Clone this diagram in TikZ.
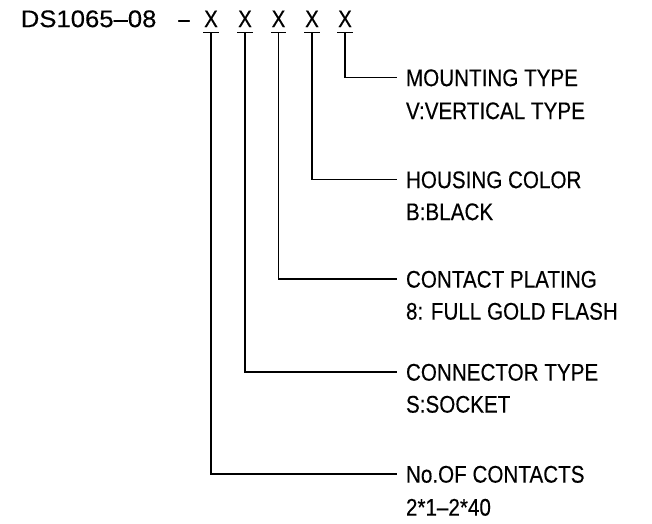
\documentclass[tikz,border=0pt]{standalone}
\usepackage{fontspec}
\setmainfont[FakeStretch=0.86,FakeBold=0.3]{Liberation Sans}
\newfontfamily\titlefont[FakeStretch=1.07,FakeBold=0.3]{Liberation Sans}
\usetikzlibrary{positioning}

\begin{document}
\begin{tikzpicture}[
    x = 1pt, y = -1pt, % pixel grid, y going down
    line width = 1.6pt,
    every node/.style = {font=\fontsize{24}{28}\selectfont, inner sep=0pt,
        text height=17.2pt, text depth=0pt},
    code/.style = {inner ysep=4.5pt}, % room for the underline
    lbl/.style = {anchor=west, outer xsep=9pt} % gap between leader and text
    ]
    \useasboundingbox (0,0) rectangle (652,523);

    % part number
    \node[anchor=west,font=\fontsize{24}{28}\titlefont] (pn) at (20,18.5) {DS1065–08};
    \node (dash) at (184,18.5) {–};
    \node[code] (c1) at (211,18.5) {X};
    \node[code] (c2) at (245,18.5) {X};
    \node[code] (c3) at (278.5,18.5) {X};
    \node[code] (c4) at (312,18.5) {X};
    \node[code] (c5) at (345,18.5) {X};

    % labels
    \node[lbl] (mt) at (397,77.5) {MOUNTING TYPE};
    \node (mtd) [below=33pt of mt.west, lbl] {V:VERTICAL TYPE};
    \node[lbl] (hc) at (397,179.5) {HOUSING COLOR};
    \node (hcd) [below=32pt of hc.west, lbl] {B:BLACK};
    \node[lbl] (cp) at (397,279) {CONTACT PLATING};
    \node (cpd) [below=32pt of cp.west, lbl] {8: FULL GOLD FLASH};
    \node[lbl] (ct) at (397,372) {CONNECTOR TYPE};
    \node (ctd) [below=32pt of ct.west, lbl] {S:SOCKET};
    \node[lbl] (nc) at (397,474) {No.OF CONTACTS};
    \node (ncd) [below=33pt of nc.west, lbl] {2*1–2*40};

    % underlines
    \foreach \c in {c1,c2,c3,c4,c5}
        \draw (\c.south west) -- (\c.south east);

    % leaders
    \draw (c5.south) |- (mt.west);
    \draw (c4.south) |- (hc.west);
    \draw (c3.south) |- (cp.west);
    \draw (c2.south) |- (ct.west);
    \draw (c1.south) |- (nc.west);
\end{tikzpicture}
\end{document}
